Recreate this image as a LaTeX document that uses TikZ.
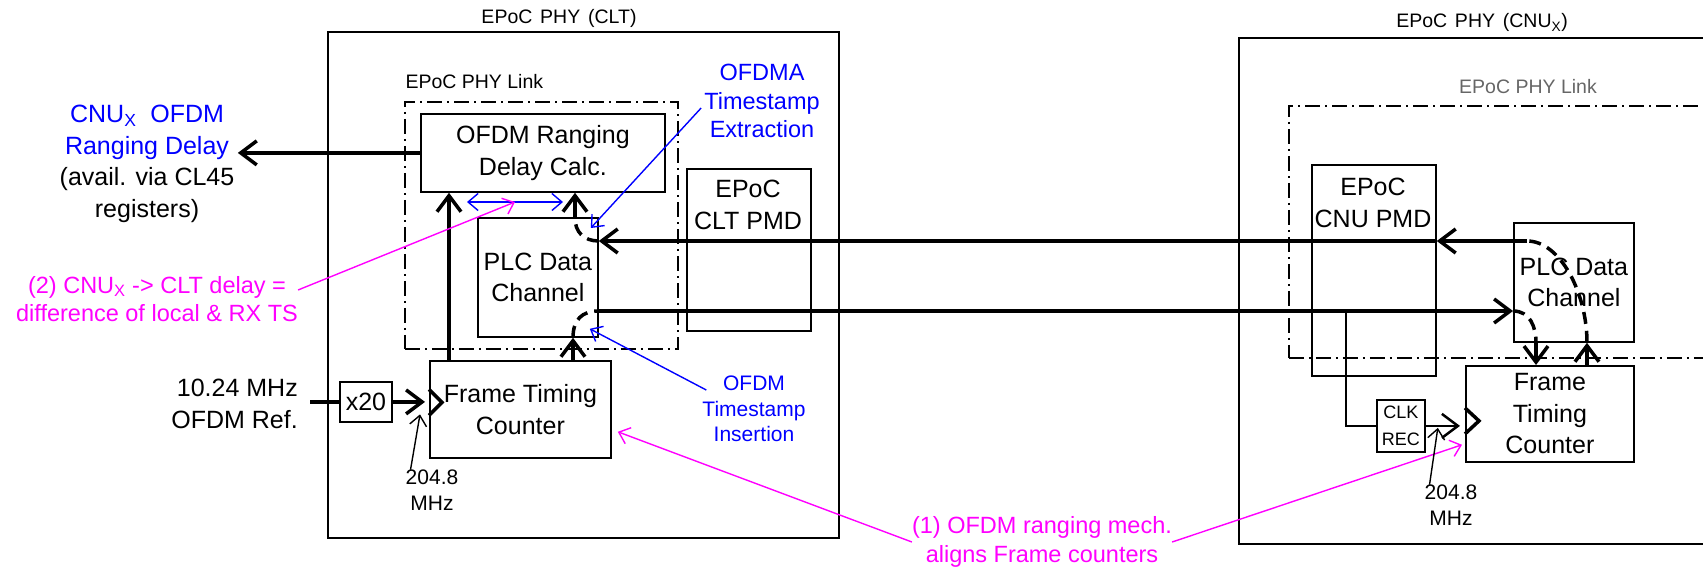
\documentclass[tikz,border=0pt]{standalone}
\usepackage{fontspec}
\setmainfont{Liberation Sans}
\usetikzlibrary{positioning,arrows.meta,calc}
\definecolor{mag}{RGB}{255,0,255}
\definecolor{tsblue}{RGB}{0,0,255}

\begin{document}
\begin{tikzpicture}[
  x=1pt, y=-1pt,
  font=\fontsize{25}{31.5}\selectfont,
  phy/.style={draw, line width=2pt, anchor=north west, inner sep=0pt},
  link/.style={draw, line width=1.6pt, anchor=north west, inner sep=0pt,
               dash pattern=on 15pt off 5pt on 2pt off 5pt},
  blk/.style={draw, line width=1.8pt, anchor=north west, inner sep=0pt, align=center},
  ttl/.style={font=\fontsize{19.5}{23}\selectfont, anchor=base},
  note/.style={font=\fontsize{23.5}{28.5}\selectfont, align=center, inner sep=0pt},
  fnote/.style={font=\fontsize{21}{25.5}\selectfont, align=center, inner sep=0pt},
  flow/.style={-{Straight Barb[length=16pt,width=24pt]}, line width=3.5pt},
  bus/.style={line width=3.5pt},
  tsloop/.style={line width=3.5pt, dash pattern=on 12pt off 7pt},
  clk/.style={line width=3.5pt, line join=miter},
  hint/.style={-{Straight Barb[length=10pt,width=17pt]}, line width=1.4pt},
  hintboth/.style={{Straight Barb[length=10pt,width=17pt]}-{Straight Barb[length=10pt,width=17pt]}, line width=1.4pt},
]
  \useasboundingbox (0,0) rectangle (1703,569);
  \clip (0,0) rectangle (1703,569);

  % CLT side
  \node[ttl] (clttl) at (559,24) {EPoC\hspace{0.4em}PHY\hspace{0.4em}(CLT)};
  \node[phy, minimum width=511pt, minimum height=506pt] (clt) at (327,31) {};
  \node[ttl, anchor=base west] (cltlk) at (402,89) {EPoC PHY Link};
  \node[link, minimum width=273pt, minimum height=247pt] (cltlink) at (404,101) {};
  \node[blk, minimum width=244pt, minimum height=78pt] (ordc) at (420,113) {OFDM Ranging\\Delay Calc.};
  \node[blk, minimum width=120pt, minimum height=119pt] (plc) at (477,217) {PLC Data\\Channel};
  \node[blk, minimum width=124pt, minimum height=162pt] (pmd) at (686,168) {};
  \node[align=center, anchor=north] (pmdtxt) at (748,177) {EPoC\\CLT PMD};
  \node[blk, minimum width=181pt, minimum height=97pt] (ftc) at (429,360) {Frame Timing\\Counter};
  \node[blk, minimum width=52pt, minimum height=40pt] (x20) at (339,381) {x20};

  % CNU side
  \node[ttl] (cnuttl) at (1482,28) {EPoC\hspace{0.4em}PHY\hspace{0.4em}(CNU\textsubscript{X})};
  \node[phy, minimum width=520pt, minimum height=506pt] (cnu) at (1238,37) {};
  \node[ttl, text=black!60] (cnulk) at (1528,94) {EPoC PHY Link};
  \node[link, minimum width=470pt, minimum height=252pt] (cnulink) at (1288,105) {};
  \node[blk, minimum width=124pt, minimum height=211pt] (cnupmd) at (1311,164) {};
  \node[align=center, anchor=north] (cnupmdtxt) at (1373,175) {EPoC\\CNU PMD};
  \node[blk, minimum width=120pt, minimum height=119pt] (cnuplc) at (1513,222) {PLC Data\\Channel};
  \node[blk, minimum width=168pt, minimum height=96pt] (cnuftc) at (1465,365) {Frame\\Timing\\Counter};
  \node[blk, minimum width=48pt, minimum height=52pt, font=\fontsize{18}{27}\selectfont] (clkrec) at (1376,399) {CLK\\REC};

  % Labels and notes
  \node[align=center] (dly) at (147,164) {\textcolor{tsblue}{CNU\textsubscript{X}~~OFDM}\\\textcolor{tsblue}{Ranging Delay}\\(avail. via CL45\\registers)};
  \node[align=right, anchor=east, inner sep=0pt] (ref) at (298,404) {10.24 MHz\\OFDM Ref.};
  \node[note, text=mag] (n2) at (157,299) {(2) CNU\textsubscript{X} -> CLT delay =\\difference of local \& RX TS};
  \node[note, text=tsblue] (ext) at (762,101) {OFDMA\\Timestamp\\Extraction};
  \node[fnote, text=tsblue] (ins) at (754,409) {OFDM\\Timestamp\\Insertion};
  \node[note, text=mag] (n1) at (1042,542) {(1) OFDM ranging mech.\\aligns Frame counters};
  \node[fnote] (f1) at (432,490) {204.8\\MHz};
  \node[fnote] (f2) at (1451,505) {204.8\\MHz};

  % Columns and rows of the timestamp paths
  \coordinate (lft) at (449,0);
  \coordinate (dnc) at (573,0);
  \coordinate (upin) at (575,218);
  \coordinate (cdn) at (1536,0);
  \coordinate (cup) at (1587,0);
  \coordinate (tap) at (1346,0);
  \coordinate (dnrow) at (0,311);
  \coordinate (ustart) at (1527,241);
  \coordinate (tsl) at (467,202);
  \coordinate (tsr) at (563,202);

  % CLT clocking and ranging result
  \draw[flow] (ordc.west) -- (ordc.west -| dly.east);
  \draw[bus, shorten <=12pt] (ref.east |- x20.west) -- (x20.west);
  \draw[flow, shorten >=4pt] (x20.east) -- (x20.east -| ftc.west);
  \draw[clk] ($(ftc.west)+(0,-20)$) -- ++(13,13) -- ++(-13,13);
  \draw[flow] (ftc.north -| lft) -- (ordc.south -| lft);

  % Downstream timestamp: CLT -> CNU
  \draw[flow] (ftc.north -| dnc) -- (plc.south -| dnc);
  \draw[tsloop] (plc.south -| dnc) .. controls +(0,-18) and +(-17,0) .. (plc.east |- dnrow);
  \draw[flow] (plc.east |- dnrow) -- (cnuplc.west |- dnrow);
  \draw[tsloop] (cnuplc.west |- dnrow) .. controls +(17,0) and +(0,-16) .. (cnuplc.south -| cdn);
  \draw[flow] (cnuplc.south -| cdn) -- (cnuftc.north -| cdn);

  % Upstream timestamp: CNU -> CLT
  \draw[flow] (cnuftc.north -| cup) -- (cnuplc.south -| cup);
  \draw[tsloop] (cnuplc.south -| cup) .. controls +(0,-50) and +(33,0) .. (ustart);
  \draw[flow] (ustart) -- (cnupmd.east |- ustart);
  \draw[flow] (cnupmd.east |- ustart) -- (plc.east |- ustart);
  \draw[tsloop] (plc.east |- ustart) .. controls +(-15,0) and +(0,14) .. (upin);
  \draw[flow] (upin) -- (ordc.south -| upin);

  % CNU clock recovery
  \draw[line width=2pt] (tap |- dnrow) |- (clkrec.west);
  \draw[flow, line width=2.5pt, shorten >=5pt] (clkrec.east) -- (clkrec.east -| cnuftc.west);
  \draw[clk] ($(cnuftc.west)+(0,-6)$) -- ++(14,13) -- ++(-14,13);

  % Pointers
  \draw[hintboth, tsblue] (tsl) -- (tsr);
  \draw[hint, mag] ($(n2.east)+(0,-9)$) -- ($(tsl)!0.5!(tsr)$);
  \draw[hint, tsblue] ($(ext.west)+(-3,7)$) -- ($(plc.north east)+(-8,11)$);
  \draw[hint, tsblue] ($(ins.west)+(4,-19)$) -- ($(plc.south east)+(-9,-9)$);
  \draw[hint, mag] (n1.west) -- ($(ftc.south east)+(6,-27)$);
  \draw[hint, mag] (n1.east) -- ($(cnuftc.south west)+(-3,-18)$);
  \draw[hint] ($(f1.north west)+(5,0)$) -- ($(ftc.west)+(-9,5)$);
  \draw[hint] ($(f2.north west)+(5,0)$) -- ($(clkrec.east)+(12,2)$);
\end{tikzpicture}
\end{document}
